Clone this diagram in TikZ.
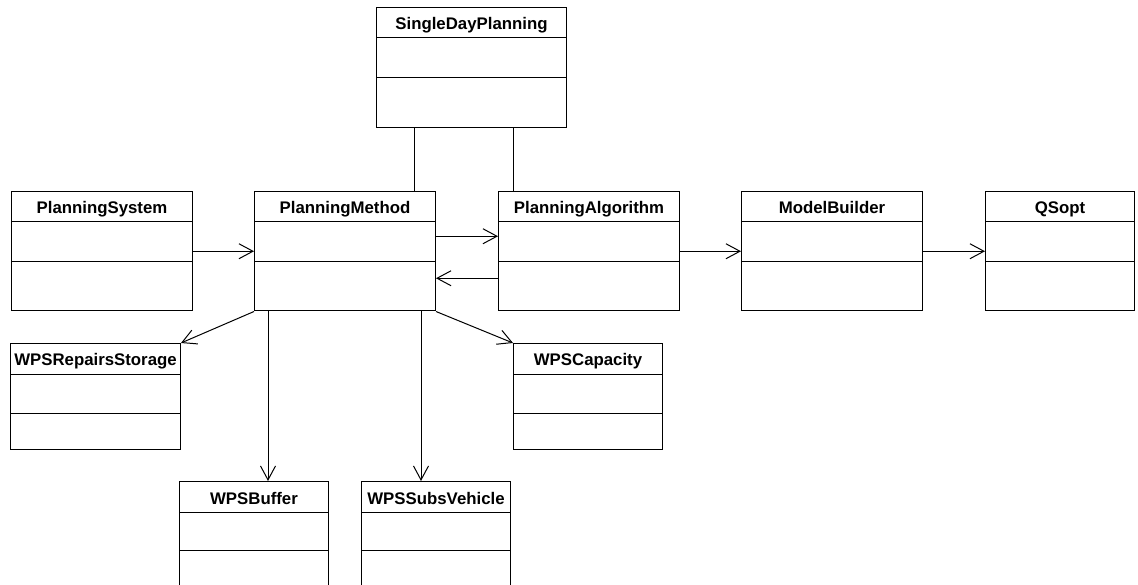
\documentclass[tikz,border=0pt]{standalone}
\usepackage{fontspec}
\setmainfont{Liberation Sans}
\usetikzlibrary{positioning,shapes,arrows.meta}
\tikzstyle{umlclass}=[rectangle, draw=black, rectangle split, rectangle split parts=3,
line width=1pt, inner sep=0pt, text centered, anchor=north west,
font=\bfseries\fontsize{16.8}{17}\selectfont]
\tikzstyle{wide}=[text width=181pt]
\tikzstyle{narrow}=[text width=149pt]
\tikzstyle{assoc}=[line width=1pt, -{Straight Barb[length=14pt,width=15pt]}]
\tikzstyle{link}=[line width=1pt]
\newcommand{\hd}[1]{\rule[-7.5pt]{0pt}{29.5pt}#1}
\newcommand{\cmp}[1]{\rule{0pt}{#1pt}}

\begin{document}
\begin{tikzpicture}[x=1pt,y=-1pt]
        \useasboundingbox (0,0) rectangle (1138,585);
        \clip (0,0) rectangle (1138,585);
        \node (sdp)[umlclass, text width=190pt] at (376,7)
                {\hd{SingleDayPlanning} \nodepart{second}\cmp{38.5} \nodepart{third}\cmp{49.5}};
        \node (ps)[umlclass, wide] at (11,191)
                {\hd{PlanningSystem} \nodepart{second}\cmp{38.5} \nodepart{third}\cmp{48.5}};
        \node (pm)[umlclass, wide] at (254,191)
                {\hd{PlanningMethod} \nodepart{second}\cmp{38.5} \nodepart{third}\cmp{48.5}};
        \node (pa)[umlclass, wide] at (498,191)
                {\hd{PlanningAlgorithm} \nodepart{second}\cmp{38.5} \nodepart{third}\cmp{48.5}};
        \node (mb)[umlclass, wide] at (741,191)
                {\hd{ModelBuilder} \nodepart{second}\cmp{38.5} \nodepart{third}\cmp{48.5}};
        \node (qs)[umlclass, narrow] at (985,191)
                {\hd{QSopt} \nodepart{second}\cmp{38.5} \nodepart{third}\cmp{48.5}};
        \node (rs)[umlclass, text width=170pt] at (10,343)
                {\hd{WPSRepairsStorage} \nodepart{second}\cmp{38.5} \nodepart{third}\cmp{35}};
        \node (cap)[umlclass, narrow] at (513,343)
                {\hd{WPSCapacity} \nodepart{second}\cmp{38.5} \nodepart{third}\cmp{35}};
        \node (buf)[umlclass, narrow] at (179,481)
                {\hd{WPSBuffer} \nodepart{second}\cmp{37} \nodepart{third}\cmp{37}};
        \node (sv)[umlclass, narrow] at (361,481)
                {\hd{WPSSubsVehicle} \nodepart{second}\cmp{37} \nodepart{third}\cmp{37}};

        \draw [link] ([xshift=38pt]sdp.south west) -- ([xshift=38pt]sdp.south west |- pm.north);
        \draw [link] ([xshift=-54pt]sdp.south east) -- ([xshift=-54pt]sdp.south east |- pa.north);
        \draw [assoc] (ps.east) -- (pm.west);
        \draw [assoc] ([yshift=15pt]pm.east) -- ([yshift=15pt]pa.west);
        \draw [assoc] ([yshift=-27pt]pa.west) -- ([yshift=-27pt]pm.east);
        \draw [assoc] (pa.east) -- (mb.west);
        \draw [assoc] (mb.east) -- (qs.west);
        \draw [assoc] (pm.south west) -- (rs.north east);
        \draw [assoc] (pm.south east) -- (cap.north west);
        \draw [assoc] ([xshift=14pt]pm.south west) -- ([xshift=14pt]pm.south west |- buf.north);
        \draw [assoc] ([xshift=-15pt]pm.south east) -- ([xshift=-15pt]pm.south east |- sv.north);
\end{tikzpicture}
\end{document}
